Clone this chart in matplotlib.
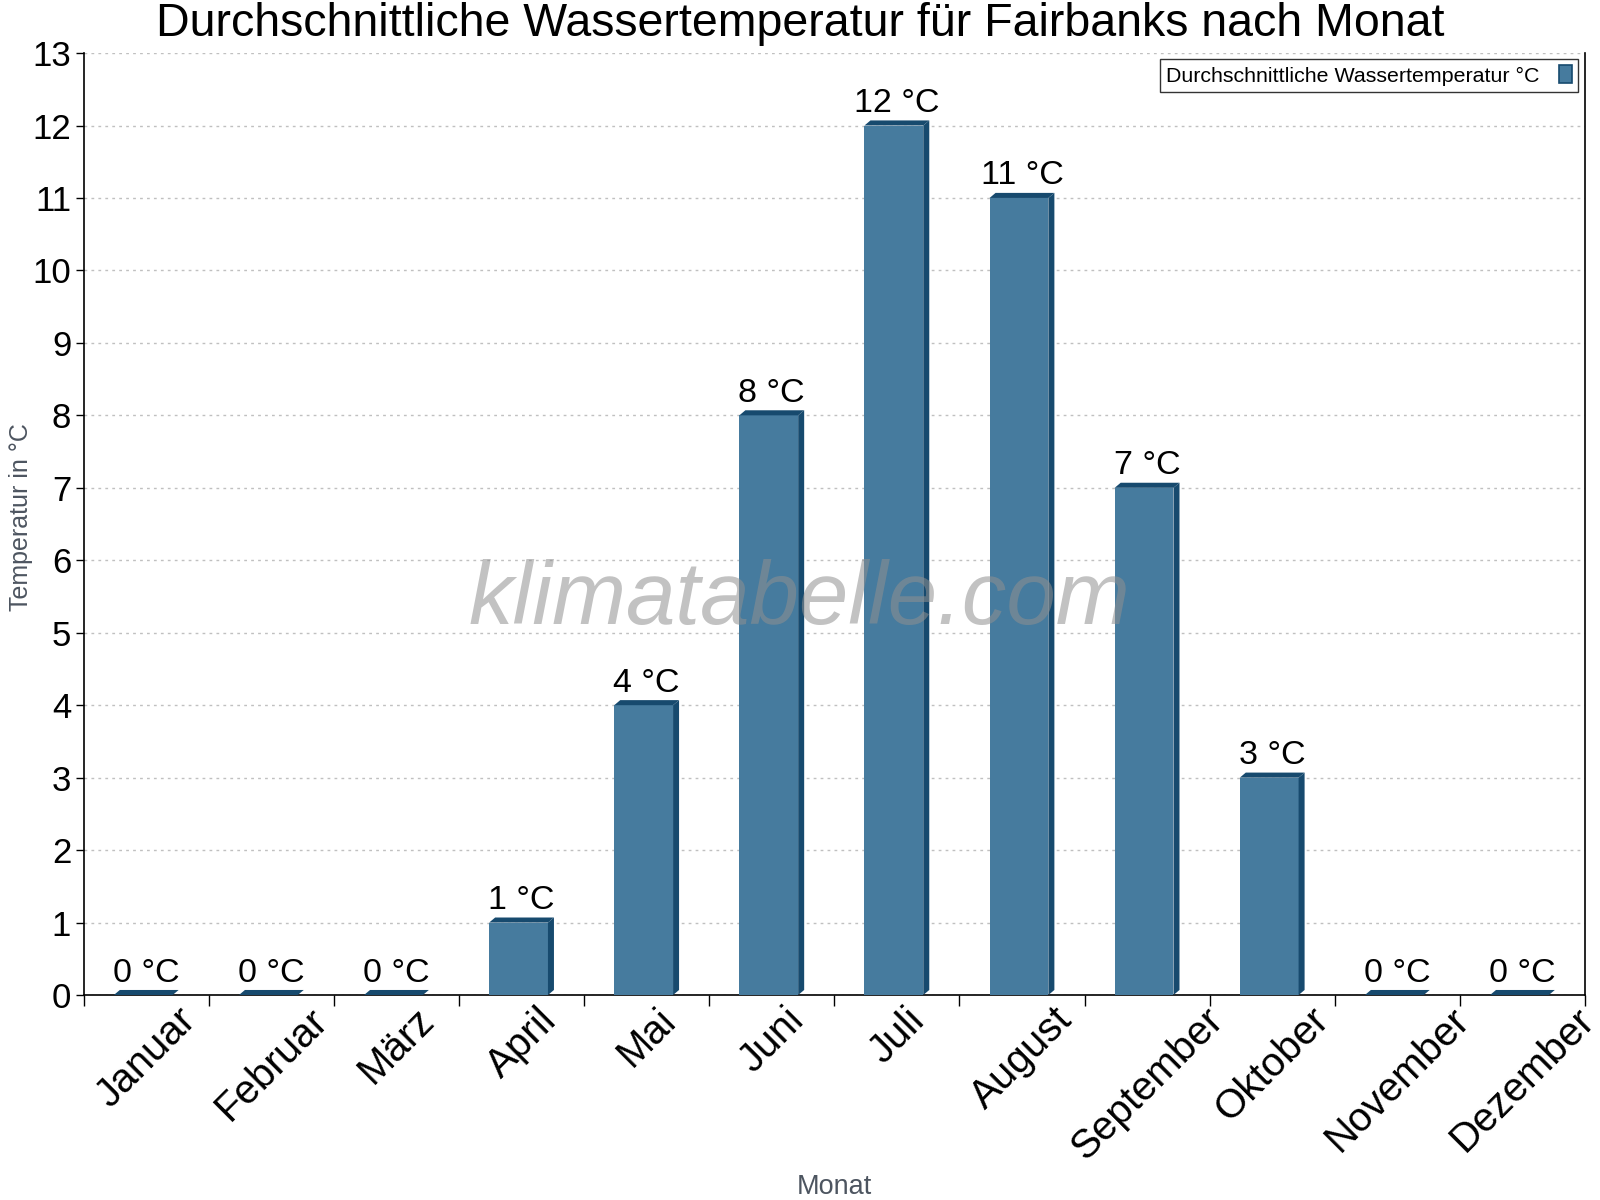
import matplotlib
matplotlib.use("Agg")
import matplotlib.pyplot as plt
from matplotlib.patches import Polygon, Patch
import numpy as np

plt.rcParams['font.family'] = ['Liberation Sans', 'DejaVu Sans']

months = ["Januar", "Februar", "März", "April", "Mai", "Juni", "Juli",
          "August", "September", "Oktober", "November", "Dezember"]
temps = [0, 0, 0, 1, 4, 8, 12, 11, 7, 3, 0, 0]
yticks = list(range(0, 14))

front = "#467b9e"
dark = "#174a6e"

fig = plt.figure(figsize=(16, 12), dpi=100)
ax = fig.add_axes([0.0523, 0.1708, 0.9383, 0.785])

n = len(months)
x = np.arange(n)
w = 0.47
dx = 0.048
dy = 0.07

ax.set_xlim(-0.5, n - 0.5)
ax.set_ylim(0, 13)

for xi, v in zip(x, temps):
    x0 = xi - w / 2 - dx / 2
    x1 = x0 + w
    if v > 0:
        ax.bar(x0, v, width=w, align='edge', color=front, edgecolor='none', zorder=3)
        side = Polygon([(x1, 0), (x1 + dx, dy), (x1 + dx, v + dy), (x1, v)],
                       closed=True, facecolor=dark, edgecolor='none', zorder=3)
        ax.add_patch(side)
    top = Polygon([(x0, v), (x0 + dx, v + dy), (x1 + dx, v + dy), (x1, v)],
                  closed=True, facecolor=dark, edgecolor='none', zorder=4)
    ax.add_patch(top)
    ax.text(xi, v + dy + 0.02, f"{v} °C", ha='center', va='bottom',
            fontsize=24.5, color='black', zorder=5)

ax.set_yticks(yticks)
ax.set_yticklabels([str(t) for t in yticks], fontsize=25)
ax.tick_params(axis='y', direction='out', length=6, width=1, pad=3)

ax.set_xticks(np.arange(-0.5, n, 1.0))
ax.set_xticklabels([])
ax.tick_params(axis='x', which='major', direction='out', length=8, width=1)
ax.set_xticks(x, minor=True)
ax.set_xticklabels(months, minor=True, rotation=45, ha='center',
                   va='top', fontsize=29)
ax.tick_params(axis='x', which='minor', length=0, pad=4)

ax.grid(axis='y', color='#c0c0c0', linestyle=(0, (2, 3)), linewidth=1, zorder=0)
ax.set_axisbelow(True)

ax.spines['top'].set_visible(False)
for s in ['left', 'bottom', 'right']:
    ax.spines[s].set_color('black')
    ax.spines[s].set_linewidth(1.2)

ax.set_ylabel("Temperatur in °C", fontsize=18, color='#4d5560')
ax.yaxis.set_label_coords(-0.0335, 0.507)
ax.set_xlabel("Monat", fontsize=19.5, color='#4d5560')
ax.xaxis.set_label_coords(0.5, -0.19)

fig.text(0.5, 0.98, "Durchschnittliche Wassertemperatur für Fairbanks nach Monat",
         ha='center', va='center', fontsize=33.5, color='black')

ax.text(0.4765, 0.418, "klimatabelle.com", transform=ax.transAxes, ha='center',
        va='center', fontsize=64, style='italic', color='#909090', alpha=0.55,
        zorder=6)

leg = ax.legend(handles=[Patch(facecolor=front, edgecolor=dark, linewidth=1.2,
                               label="Durchschnittliche Wassertemperatur °C")],
                loc='upper right', bbox_to_anchor=(0.9955, 0.9936), borderaxespad=0,
                fontsize=15.4, frameon=True, fancybox=False, edgecolor='black',
                markerfirst=False, handlelength=0.6, handleheight=0.9,
                borderpad=0.3, handletextpad=0.9)
leg.get_frame().set_linewidth(1.0)

fig.savefig("out.png", dpi=100)
